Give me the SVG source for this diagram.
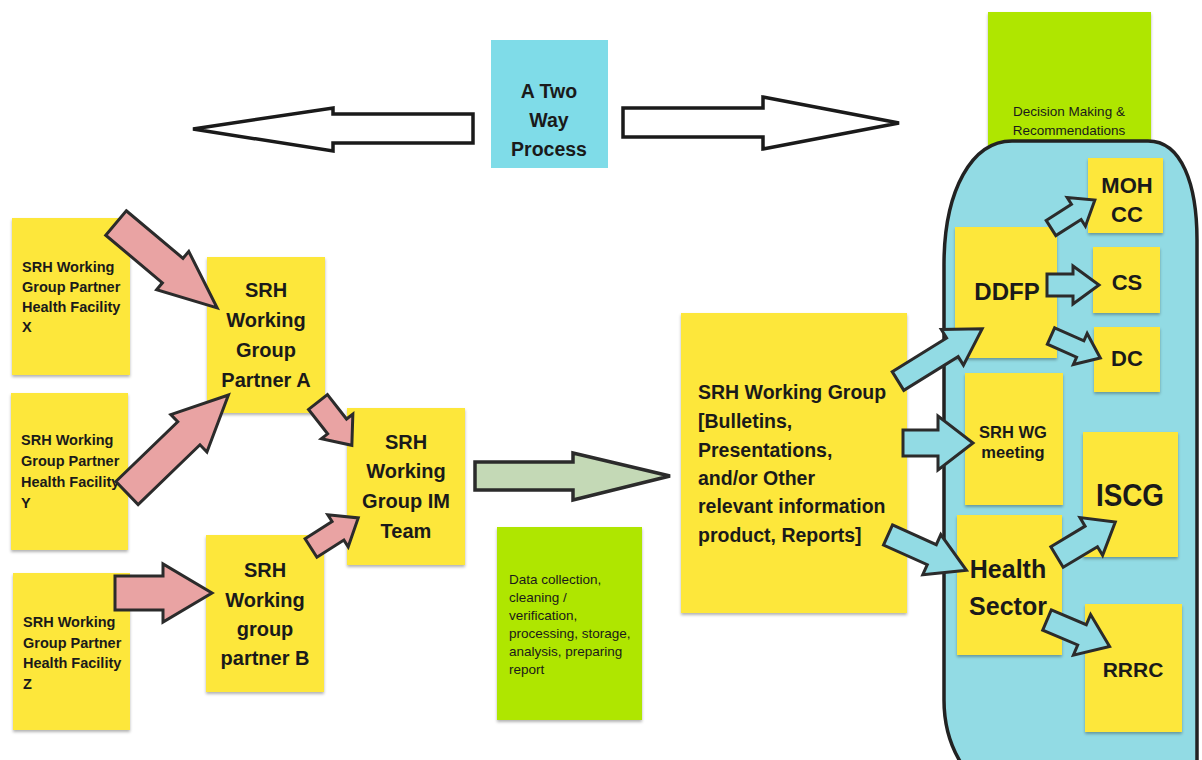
<svg xmlns="http://www.w3.org/2000/svg" width="1202" height="760" viewBox="0 0 1202 760">
<defs>
<filter id="sh" x="-10%" y="-10%" width="130%" height="130%">
<feDropShadow dx="0" dy="2" stdDeviation="1.5" flood-color="#000" flood-opacity="0.3"/>
</filter>
</defs>
<style>
.note{fill:#fde73a;filter:url(#sh)}
.lime{fill:#afe600;filter:url(#sh)}
.cyan{fill:#7fdce8}
.t{font-family:"Liberation Sans",Arial,sans-serif;font-weight:bold;fill:#1a1a1a}
.s{font-size:14.5px}
.m{font-size:20px;text-anchor:middle}
.g{font-family:"Liberation Sans",Arial,sans-serif;font-size:13.5px;fill:#1a1a1a}
.pink{fill:#e9a3a3;stroke:#2b2b2b;stroke-width:3;stroke-linejoin:miter}
.blue{fill:#92dbe4;stroke:#2b2b2b;stroke-width:3;stroke-linejoin:miter}
.white{fill:#fff;stroke:#1a1a1a;stroke-width:3.5;stroke-linejoin:miter}
.green{fill:#c4d9b6;stroke:#2b2b2b;stroke-width:3.5;stroke-linejoin:miter}
</style>
<rect width="1202" height="760" fill="#fff"/>

<g id="decision">
<rect x="988" y="12" width="163" height="135" class="lime"/>
<text x="1069" y="116" class="g" text-anchor="middle" font-weight="500">Decision Making &amp;</text>
<text x="1069" y="135" class="g" text-anchor="middle" font-weight="500">Recommendations</text>
</g>

<g id="container">
<path d="M1012,141 L1148,141 C1182,141 1197,185 1197,240 L1197,800 L1000,800 C965,780 944,745 944,700 L944,265 C944,190 972,141 1012,141 Z" fill="#92dbe4" stroke="#222" stroke-width="3.5"/>
</g>

<g id="twoway">
<rect x="491" y="40" width="117" height="128" class="cyan"/>
<text x="549" y="98" class="t" font-size="19.5" text-anchor="middle">A Two</text>
<text x="549" y="127" class="t" font-size="19.5" text-anchor="middle">Way</text>
<text x="549" y="156" class="t" font-size="19.5" text-anchor="middle">Process</text>
</g>

<g id="facX">
<rect x="12" y="218" width="118" height="157" class="note"/>
<text class="t s" x="22" y="272">SRH Working</text>
<text class="t s" x="22" y="292">Group Partner</text>
<text class="t s" x="22" y="312">Health Facility</text>
<text class="t s" x="22" y="332">X</text>
</g>
<g id="facY">
<rect x="11" y="393" width="117" height="157" class="note"/>
<text class="t s" x="21" y="445">SRH Working</text>
<text class="t s" x="21" y="466">Group Partner</text>
<text class="t s" x="21" y="487">Health Facility</text>
<text class="t s" x="21" y="508">Y</text>
</g>
<g id="facZ">
<rect x="13" y="573" width="117" height="157" class="note"/>
<text class="t s" x="23" y="627">SRH Working</text>
<text class="t s" x="23" y="648">Group Partner</text>
<text class="t s" x="23" y="668">Health Facility</text>
<text class="t s" x="23" y="689">Z</text>
</g>
<g id="partnerA">
<rect x="207" y="257" width="118" height="156" class="note"/>
<text class="t m" x="266" y="297">SRH</text>
<text class="t m" x="266" y="327">Working</text>
<text class="t m" x="266" y="357">Group</text>
<text class="t m" x="266" y="387">Partner A</text>
</g>
<g id="partnerB">
<rect x="206" y="535" width="118" height="157" class="note"/>
<text class="t m" x="265" y="577">SRH</text>
<text class="t m" x="265" y="607">Working</text>
<text class="t m" x="265" y="636">group</text>
<text class="t m" x="265" y="665">partner B</text>
</g>
<g id="imteam">
<rect x="347" y="408" width="118" height="157" class="note"/>
<text class="t m" x="406" y="449">SRH</text>
<text class="t m" x="406" y="478">Working</text>
<text class="t m" x="406" y="508">Group IM</text>
<text class="t m" x="406" y="538">Team</text>
</g>
<g id="datacoll">
<rect x="497" y="527" width="145" height="193" class="lime"/>
<text class="g" x="509" y="584">Data collection,</text>
<text class="g" x="509" y="602">cleaning /</text>
<text class="g" x="509" y="620">verification,</text>
<text class="g" x="509" y="638">processing, storage,</text>
<text class="g" x="509" y="656">analysis, preparing</text>
<text class="g" x="509" y="674">report</text>
</g>
<g id="srhwg">
<rect x="681" y="313" width="226" height="300" class="note"/>
<text class="t" font-size="19.5" x="698" y="399">SRH Working Group</text>
<text class="t" font-size="19.5" x="698" y="428">[Bulletins,</text>
<text class="t" font-size="19.5" x="698" y="457">Presentations,</text>
<text class="t" font-size="19.5" x="698" y="485">and/or Other</text>
<text class="t" font-size="19.5" x="698" y="513">relevant information</text>
<text class="t" font-size="19.5" x="698" y="542">product, Reports]</text>
</g>
<g id="ddfp">
<rect x="955" y="227" width="102" height="131" class="note"/>
<text class="t" font-size="24" x="1007" y="300" text-anchor="middle">DDFP</text>
</g>
<g id="mohcc">
<rect x="1088" y="158" width="75" height="75" class="note"/>
<text class="t" font-size="22" x="1127" y="193" text-anchor="middle">MOH</text>
<text class="t" font-size="22" x="1127" y="222" text-anchor="middle">CC</text>
</g>
<g id="cs">
<rect x="1093" y="247" width="67" height="66" class="note"/>
<text class="t" font-size="22" x="1127" y="290" text-anchor="middle">CS</text>
</g>
<g id="dc">
<rect x="1094" y="327" width="66" height="65" class="note"/>
<text class="t" font-size="22" x="1127" y="366" text-anchor="middle">DC</text>
</g>
<g id="wgmeeting">
<rect x="965" y="373" width="98" height="132" class="note"/>
<text class="t" font-size="16.5" x="1013" y="438" text-anchor="middle">SRH WG</text>
<text class="t" font-size="16.5" x="1013" y="458" text-anchor="middle">meeting</text>
</g>
<g id="iscg">
<rect x="1083" y="432" width="95" height="125" class="note"/>
<text class="t" font-size="31" x="1130" y="506" text-anchor="middle" textLength="68" lengthAdjust="spacingAndGlyphs">ISCG</text>
</g>
<g id="health">
<rect x="957" y="515" width="105" height="140" class="note"/>
<text class="t" font-size="25" x="1008" y="578" text-anchor="middle">Health</text>
<text class="t" font-size="25" x="1008" y="615" text-anchor="middle">Sector</text>
</g>
<g id="rrrc">
<rect x="1085" y="604" width="97" height="128" class="note"/>
<text class="t" font-size="21" x="1133" y="677" text-anchor="middle">RRRC</text>
</g>

<g id="connectors">
<polygon class="white" points="473,114 333,114 333,108 193,129 333,151 333,143 473,143"/>
<polygon class="white" points="623,108 763,108 763,97 899,123 763,149 763,137 623,137"/>
<polygon class="pink" transform="translate(116,223) rotate(40)" points="0,-16 74,-16 74,-25 132,0 74,25 74,16 0,16"/>
<polygon class="pink" transform="translate(127,493) rotate(-44)" points="0,-16 86,-16 86,-26 141,0 86,26 86,16 0,16"/>
<polygon class="pink" transform="translate(318,402) rotate(52)" points="0,-12 31,-12 31,-20 55,0 31,20 31,12 0,12"/>
<polygon class="pink" transform="translate(311,548) rotate(-32.5)" points="0,-11 32,-11 32,-19 56,0 32,19 32,11 0,11"/>
<polygon class="pink" points="115,576 163,576 163,564 212,593 163,622 163,610 115,610"/>
<polygon class="green" points="475,462 573,462 573,453 670,476 573,500 573,490 475,490"/>
<polygon class="blue" transform="translate(898,381) rotate(-31.8)" points="0,-11 64,-11 64,-21 99,0 64,21 64,11 0,11"/>
<polygon class="blue" points="903,430 938,430 938,416 973,443 938,470 938,456 903,456"/>
<polygon class="blue" transform="translate(888,535) rotate(24.2)" points="0,-11 48,-11 48,-22 86,0 48,22 48,11 0,11"/>
<polygon class="blue" transform="translate(1051,228) rotate(-32.5)" points="0,-9 30,-9 30,-17 52,0 30,17 30,9 0,9"/>
<polygon class="blue" points="1047,274 1073,274 1073,266 1099,285 1073,304 1073,296 1047,296"/>
<polygon class="blue" transform="translate(1051,336) rotate(24)" points="0,-9 32,-9 32,-17 54,0 32,17 32,9 0,9"/>
<polygon class="blue" transform="translate(1057,557) rotate(-31)" points="0,-12 40,-12 40,-22 68,0 40,22 40,12 0,12"/>
<polygon class="blue" transform="translate(1047,620) rotate(23)" points="0,-11 38,-11 38,-22 68,0 38,22 38,11 0,11"/>
</g>
</svg>
